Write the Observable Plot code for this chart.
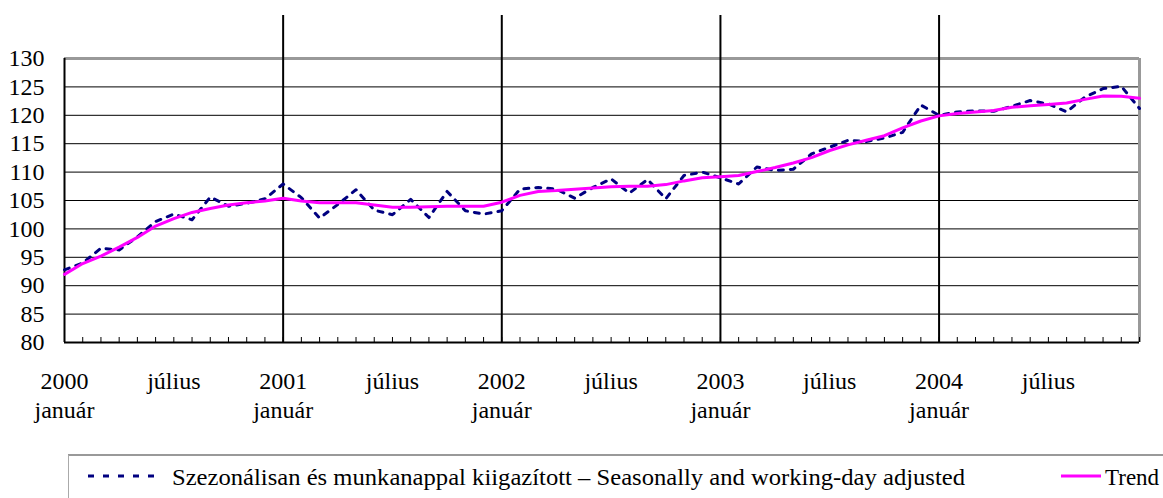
<!DOCTYPE html>
<html><head><meta charset="utf-8">
<script src="https://cdn.jsdelivr.net/npm/d3@7"></script>
<script src="https://cdn.jsdelivr.net/npm/@observablehq/plot@0.6"></script>
<style>
html,body{margin:0;padding:0;background:#fff;}
body{width:1163px;height:498px;overflow:hidden;font-family:'Liberation Serif','Times New Roman','DejaVu Serif',serif;}
#chart svg, #legend svg{display:block;}
#chart svg text, #legend svg text{font-family:'Liberation Serif','Times New Roman','DejaVu Serif',serif !important;}
</style></head>
<body><div id="chart"></div><div id="legend"></div>
<script>
// Monthly index: 0 = 2000 január ... 59 = 2004 december
const seasonallyAdjusted = [
  92.8, 94.0, 96.6, 96.3, 98.6, 101.3, 102.6, 101.6, 105.6, 104.0, 104.5, 105.3,
  107.9, 105.5, 101.9, 104.3, 106.9, 103.3, 102.5, 105.2, 102.0, 106.6, 103.2, 102.6,
  103.2, 107.0, 107.3, 107.0, 105.4, 107.3, 108.8, 106.3, 108.7, 105.3, 109.4, 110.0,
  109.0, 107.9, 110.9, 110.3, 110.5, 113.2, 114.4, 115.6, 115.4, 116.0, 117.0, 121.8,
  120.0, 120.6, 120.8, 120.7, 121.6, 122.6, 122.0, 120.6, 123.2, 124.7, 125.1, 121.2
];
const trend = [
  92.0, 93.9, 95.2, 96.8, 98.5, 100.5, 101.8, 102.9, 103.6, 104.2, 104.6, 104.9,
  105.4, 104.9, 104.6, 104.6, 104.6, 104.2, 103.8, 103.8, 103.9, 104.0, 104.0, 104.0,
  104.7, 105.9, 106.6, 106.75, 107.0, 107.2, 107.4, 107.5, 107.5, 107.8, 108.45, 109.0,
  109.2, 109.4, 110.1, 110.8, 111.6, 112.55, 113.8, 114.8, 115.6, 116.4, 117.8, 119.0,
  119.9, 120.3, 120.6, 120.85, 121.4, 121.7, 121.9, 122.15, 122.8, 123.4, 123.35, 123.0
];
const xTickIndex = [0, 6, 12, 18, 24, 30, 36, 42, 48, 54];
const xTickLabels = ["2000\njanuár", "július", "2001\njanuár", "július", "2002\njanuár", "július",
                     "2003\njanuár", "július", "2004\njanuár", "július"];
const yearStartIndex = [12, 24, 36, 48];
const yTicks = [80, 85, 90, 95, 100, 105, 110, 115, 120, 125, 130];
const gridValues = [85, 90, 95, 100, 105, 110, 115, 120, 125];
const seriesNames = ["Szezonálisan és munkanappal kiigazított – Seasonally and working-day adjusted", "Trend"];
const seriesColors = ["#000080", "#FF00FF"];

const data = seasonallyAdjusted.map((v, i) => ({i, sa: v, trend: trend[i]}));
const months = d3.range(seasonallyAdjusted.length);
const font = "'Liberation Serif','Times New Roman','DejaVu Serif',serif";

const chart = Plot.plot({
  width: 1163, height: 450,
  marginLeft: 64, marginRight: 24, marginTop: 58, marginBottom: 108,
  style: {fontFamily: font, fontSize: "24px", color: "#000", background: "#fff", overflow: "visible"},
  x: {type: "linear", domain: [0, months.length - 1], label: null},
  y: {domain: [80, 130], label: null},
  marks: [
    Plot.ruleY(gridValues, {stroke: "#000", strokeWidth: 1}),
    Plot.ruleY([130], {stroke: "#999", strokeWidth: 3}),
    Plot.ruleX([months.length - 1], {stroke: "#999", strokeWidth: 3}),
    Plot.tickX(months, {x: d => d, insetTop: 279, stroke: "#000", strokeWidth: 1}),
    Plot.ruleX(yearStartIndex, {stroke: "#000", strokeWidth: 2, insetTop: -43}),
    Plot.ruleX([0], {stroke: "#000", strokeWidth: 2}),
    Plot.ruleY([80], {stroke: "#000", strokeWidth: 2}),
    Plot.line(data, {x: "i", y: "sa", stroke: seriesColors[0], strokeWidth: 3, strokeDasharray: "5,7"}),
    Plot.line(data, {x: "i", y: "trend", stroke: seriesColors[1], strokeWidth: 3}),
    Plot.axisY({ticks: yTicks, tickSize: 0, tickPadding: 20, fontSize: 24, fill: "#000"}),
    Plot.axisX({ticks: xTickIndex, tickSize: 0, tickPadding: 26, fontSize: 24, fill: "#000",
      lineHeight: 1.2, tickFormat: d => xTickLabels[xTickIndex.indexOf(d)]})
  ]
});
document.getElementById("chart").appendChild(chart);

// Legend below the chart
const lg = d3.select("#legend").append("svg").attr("width", 1163).attr("height", 48);
lg.append("line").attr("x1", 68).attr("x2", 1163).attr("y1", 5).attr("y2", 5).attr("stroke", "#999").attr("stroke-width", 2);
lg.append("line").attr("x1", 68.5).attr("x2", 68.5).attr("y1", 5).attr("y2", 48).attr("stroke", "#aaa").attr("stroke-width", 1);
lg.append("line").attr("x1", 88).attr("x2", 160).attr("y1", 26).attr("y2", 26)
  .attr("stroke", seriesColors[0]).attr("stroke-width", 3).attr("stroke-dasharray", "6,9");
lg.append("text").attr("x", 172).attr("y", 35).attr("font-size", 24).attr("fill", "#000")
  .attr("textLength", 793).attr("lengthAdjust", "spacingAndGlyphs").text(seriesNames[0]);
lg.append("line").attr("x1", 1061).attr("x2", 1101).attr("y1", 26).attr("y2", 26)
  .attr("stroke", seriesColors[1]).attr("stroke-width", 3);
lg.append("text").attr("x", 1105).attr("y", 35).attr("font-size", 23).attr("fill", "#000").text(seriesNames[1]);
</script>
</body></html>
